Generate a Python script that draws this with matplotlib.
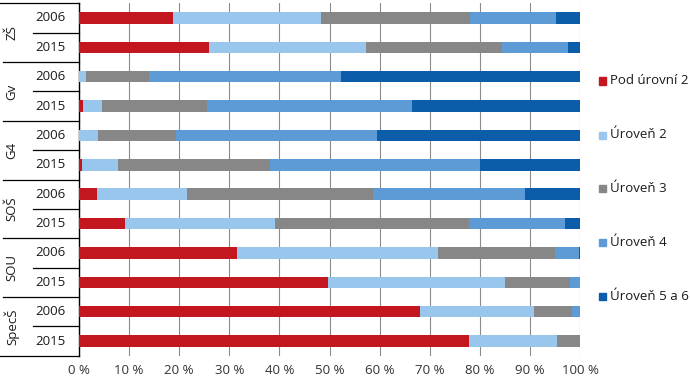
import matplotlib
matplotlib.use("Agg")
import matplotlib.pyplot as plt
from matplotlib.patches import Rectangle
from matplotlib.transforms import blended_transform_factory
import numpy as np

plt.rcParams['font.family'] = ['Open Sans', 'DejaVu Sans']

groups = ["ZŠ", "Gv", "G4", "SOŠ", "SOU", "SpecŠ"]
years = ["2006", "2015"]
series = ["Pod úrovní 2", "Úroveň 2", "Úroveň 3", "Úroveň 4", "Úroveň 5 a 6"]
colors = ["#C3161E", "#98C6EC", "#878787", "#5D9BD6", "#0B5CA9"]

# rows: ZŠ 2006, ZŠ 2015, Gv 2006, Gv 2015, G4 2006, G4 2015, SOŠ 2006, SOŠ 2015, SOU 2006, SOU 2015, SpecŠ 2006, SpecŠ 2015
pod2 = [18.8, 26.0, 0.0, 0.7, 0.0, 0.5, 3.5, 9.2, 31.5, 49.8, 68.0, 77.9]
ur2 = [29.5, 31.2, 1.4, 3.8, 3.8, 7.3, 18.0, 30.0, 40.1, 35.3, 22.8, 17.5]
ur3 = [29.7, 27.2, 12.6, 21.1, 15.5, 30.3, 37.2, 38.6, 23.5, 13.0, 7.6, 4.6]
ur4 = [17.2, 13.2, 38.3, 40.9, 40.2, 42.0, 30.3, 19.2, 4.7, 1.9, 1.6, 0.0]
ur56 = [4.8, 2.4, 47.7, 33.5, 40.5, 19.9, 11.0, 3.0, 0.2, 0.0, 0.0, 0.0]
values = [pod2, ur2, ur3, ur4, ur56]

xticks = [0, 10, 20, 30, 40, 50, 60, 70, 80, 90, 100]
xticklabels = [f"{t} %" for t in xticks]

W, H = 690, 379
fig = plt.figure(figsize=(W / 100, H / 100), dpi=100)
ax = fig.add_axes([79 / W, 1 - 355.7 / H, 501 / W, (355.7 - 3.3) / H])

n = len(pod2)
y = np.arange(n)
left = np.zeros(n)
for vals, col in zip(values, colors):
    ax.barh(y, vals, left=left, height=0.39, color=col, zorder=3)
    left = left + np.array(vals)

ax.set_xlim(0, 100)
ax.set_ylim(n - 0.5, -0.5)
ax.set_xticks(xticks)
ax.set_xticklabels(xticklabels, fontsize=9.5, color="#333333")
ax.tick_params(axis="x", length=0, pad=6)
ax.set_yticks([])
ax.grid(axis="x", color="#8c8c8c", linewidth=0.8, zorder=0)
for s in ["top", "right", "bottom"]:
    ax.spines[s].set_visible(False)
ax.spines["left"].set_color("black")
ax.spines["left"].set_linewidth(1.0)

tr = blended_transform_factory(ax.transAxes, ax.transData)
x_grp = (0 - 79) / 501
x_grp2 = (3 - 79) / 501
x_yr = (33 - 79) / 501
x_yr_label = (66 - 79) / 501
x_grp_label = (12 - 79) / 501

# year labels
for i in range(n):
    ax.text(x_yr_label, i, years[i % 2], transform=tr, ha="right", va="center",
            fontsize=9.5, color="#1a1a1a")
# group labels
for g, name in enumerate(groups):
    ax.text(x_grp_label, 2 * g + 0.5, name, transform=tr, ha="center", va="center",
            rotation=90, fontsize=9.5, color="#1a1a1a")
# separators
for g in range(len(groups) + 1):
    yy = 2 * g - 0.5
    xs = x_grp if g in (0, len(groups)) else x_grp2
    ax.plot([xs, 0], [yy, yy], transform=tr, color="black", lw=0.9, clip_on=False)
for g in range(len(groups)):
    yy = 2 * g + 0.5
    ax.plot([x_yr, 0], [yy, yy], transform=tr, color="black", lw=0.9, clip_on=False)

# legend
leg_y = [81, 135, 188, 242, 296]
for name, col, ly in zip(series, colors, leg_y):
    fig.patches.append(Rectangle((599 / W, 1 - (ly + 3.5) / H), 7 / W, 7 / H,
                                 transform=fig.transFigure, color=col))
    fig.text(610 / W, 1 - ly / H, name, ha="left", va="center", fontsize=9.5,
             color="#1a1a1a")

fig.savefig("out.png", dpi=100)
